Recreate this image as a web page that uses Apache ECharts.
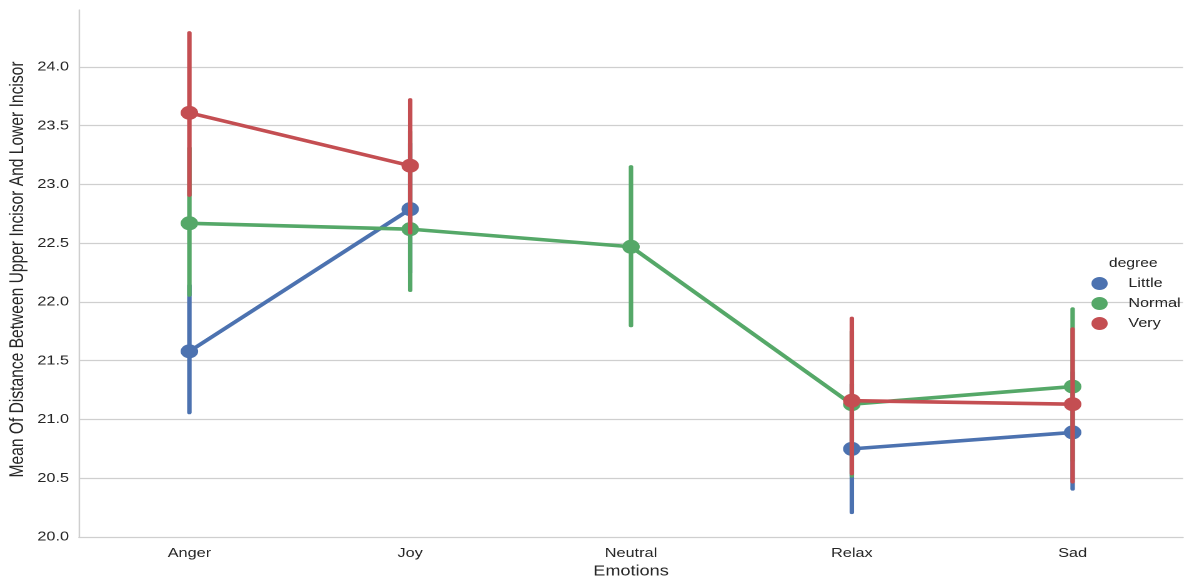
<!DOCTYPE html>
<html>
<head>
<meta charset="utf-8">
<title>Mean incisor distance by emotion</title>
<script src="https://cdn.jsdelivr.net/npm/echarts@6/dist/echarts.min.js"></script>
<style>
  html, body { margin: 0; padding: 0; background: #ffffff; overflow: hidden; }
  /* The figure is laid out at a narrower width and then widened horizontally,
     so markers read as slightly wide ellipses and text as broad letterforms. */
  #chart {
    width: 954px;
    height: 581px;
    transform: scaleX(1.2495);
    transform-origin: 0 0;
  }
</style>
</head>
<body>
<div id="chart"></div>
<script>
// Categories on the x axis
const emotions = ['Anger', 'Joy', 'Neutral', 'Relax', 'Sad'];

// Point estimates per degree (null = no observations for that emotion)
const littleMean = [21.58, 22.79, null, 20.75, 20.89];
const normalMean = [22.67, 22.62, 22.47, 21.13, 21.28];
const veryMean   = [23.61, 23.16, null, 21.16, 21.13];

// Confidence intervals [low, high] per degree
const littleCI = [[21.06, 22.14], [22.25, 23.35], null, [20.21, 21.30], [20.41, 21.40]];
const normalCI = [[22.06, 23.31], [22.10, 23.45], [21.80, 23.15], [20.52, 21.75], [20.65, 21.94]];
const veryCI   = [[22.91, 24.29], [22.59, 23.72], null, [20.54, 21.86], [20.47, 21.77]];

// Y axis ticks
const yTicks = [20.0, 20.5, 21.0, 21.5, 22.0, 22.5, 23.0, 23.5, 24.0];

const degrees = [
  { name: 'Little', color: '#4C72B0', mean: littleMean, ci: littleCI },
  { name: 'Normal', color: '#55A868', mean: normalMean, ci: normalCI },
  { name: 'Very',   color: '#C44E52', mean: veryMean,   ci: veryCI }
];

const FONT = 'Liberation Sans, Arial, Helvetica, sans-serif';
const TEXT_COLOR = '#262626';
const GRID_COLOR = '#cfcfcf';

const chart = echarts.init(document.getElementById('chart'), null, { renderer: 'canvas', devicePixelRatio: 2 });

const series = [];
degrees.forEach(function (d, i) {
  const baseZ = 2 + i * 3;
  // connecting line (breaks where a category has no data)
  series.push({
    name: d.name,
    type: 'line',
    data: d.mean,
    connectNulls: false,
    showSymbol: false,
    symbol: 'none',
    lineStyle: { color: d.color, width: 3.6 },
    itemStyle: { color: d.color },
    z: baseZ,
    silent: true,
    animation: false
  });
  // vertical confidence bars
  const ciData = [];
  d.ci.forEach(function (c, k) { if (c) ciData.push([k, c[0], c[1]]); });
  series.push({
    name: d.name,
    type: 'custom',
    data: ciData,
    encode: { x: 0, y: [1, 2] },
    z: baseZ + 1,
    silent: true,
    animation: false,
    itemStyle: { color: d.color },
    renderItem: function (params, api) {
      const lo = api.coord([api.value(0), api.value(1)]);
      const hi = api.coord([api.value(0), api.value(2)]);
      return {
        type: 'line',
        shape: { x1: lo[0], y1: lo[1], x2: hi[0], y2: hi[1] },
        style: { stroke: d.color, lineWidth: 3.6, lineCap: 'round' }
      };
    }
  });
  // point markers
  series.push({
    name: d.name,
    type: 'scatter',
    data: d.mean.map(function (v, k) { return v === null ? null : [k, v]; }).filter(function (p) { return p; }),
    symbol: 'circle',
    symbolSize: 14,
    itemStyle: { color: d.color, opacity: 1 },
    z: baseZ + 2,
    silent: true,
    animation: false
  });
});

const option = {
  backgroundColor: '#ffffff',
  animation: false,
  graphic: [{
    type: 'text',
    left: 887.5,
    top: 257,
    style: {
      text: 'degree',
      fill: TEXT_COLOR,
      font: '12.5px ' + FONT
    }
  }],
  legend: {
    data: degrees.map(function (d) { return { name: d.name, icon: 'circle', itemStyle: { color: d.color } }; }),
    orient: 'vertical',
    left: 873.5,
    top: 277,
    padding: 0,
    itemWidth: 14,
    itemHeight: 13,
    itemGap: 7,
    selectedMode: false,
    textStyle: {
      fontFamily: FONT,
      fontSize: 13,
      color: TEXT_COLOR,
      padding: [0, 0, 0, 11]
    }
  },
  grid: { left: 63.2, right: 7.2, top: 10, bottom: 44, containLabel: false, outerBoundsMode: 'none' },
  xAxis: {
    type: 'category',
    data: emotions,
    boundaryGap: true,
    name: 'Emotions',
    nameLocation: 'middle',
    nameGap: 27,
    nameMoveOverlap: false,
    nameTextStyle: { fontFamily: FONT, fontSize: 14.5, color: TEXT_COLOR },
    axisLine: { show: true, lineStyle: { color: GRID_COLOR, width: 1.2 } },
    axisTick: { show: false },
    axisLabel: { fontFamily: FONT, fontSize: 13, color: TEXT_COLOR, margin: 10 },
    splitLine: { show: false }
  },
  yAxis: {
    type: 'value',
    min: 20,
    max: 24.485,
    interval: 0.5,
    name: 'Mean Of Distance Between Upper Incisor And Lower Incisor',
    nameLocation: 'middle',
    nameRotate: 90,
    nameGap: 41,
    nameMoveOverlap: false,
    nameTextStyle: { fontFamily: FONT, fontSize: 15.6, color: TEXT_COLOR, padding: [0, 0, 0, 8] },
    axisLine: { show: true, lineStyle: { color: GRID_COLOR, width: 1.2 } },
    axisTick: { show: false },
    axisLabel: {
      fontFamily: FONT,
      fontSize: 13,
      color: TEXT_COLOR,
      margin: 8,
      showMaxLabel: false,
      formatter: function (v) {
        const r = Math.round(v * 10) / 10;
        return (yTicks.indexOf(r) >= 0 && Math.abs(v - r) < 1e-6) ? r.toFixed(1) : '';
      }
    },
    splitLine: { show: true, showMinLine: false, showMaxLine: false, lineStyle: { color: GRID_COLOR, width: 1.2 } }
  },
  series: series
};

chart.setOption(option);
</script>
</body>
</html>
